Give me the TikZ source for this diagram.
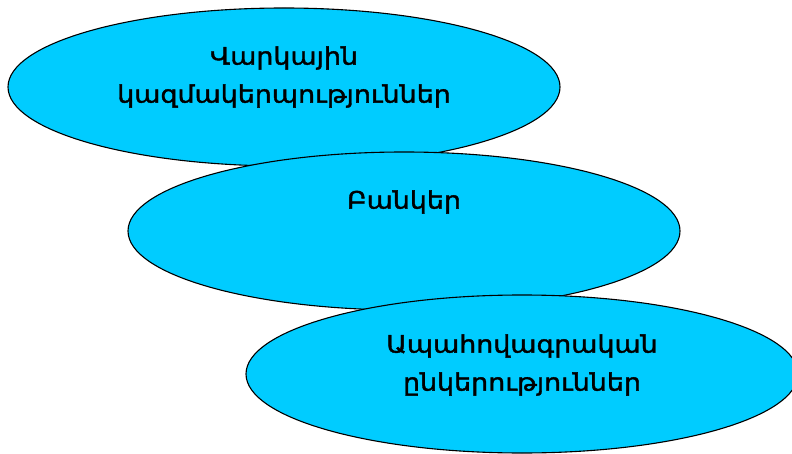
\documentclass[tikz,border=0pt]{standalone}
\usepackage{fontspec}
\newfontfamily\armfont[FakeStretch=1.12,FakeBold=1.6]{DejaVu Sans}
\usetikzlibrary{shapes.geometric}
\definecolor{skycyan}{HTML}{00CCFF}

\begin{document}
\begin{tikzpicture}[x=1pt, y=-1pt,
    sector/.style={ellipse, draw=black, line width=1.1pt, fill=skycyan, minimum width=552pt, minimum height=158pt, inner sep=0pt},
    caption/.style={align=center, font=\armfont\fontsize{24}{38}\selectfont, inner sep=0pt}
]
\useasboundingbox (0,0) rectangle (792,454);

% Sectors
\node[sector] (credit) at (284,87) {};
\node[caption] (creditlbl) at ([yshift=10pt]credit.center) {Վարկային\\կազմակերպություններ};

\node[sector] (banks) at (404,231) {};
\node[caption] (bankslbl) at ([yshift=29pt]banks.center) {Բանկեր};

\node[sector] (insur) at (522,374) {};
\node[caption] (insurlbl) at ([yshift=9pt]insur.center) {Ապահովագրական\\ընկերություններ};

\end{tikzpicture}
\end{document}
